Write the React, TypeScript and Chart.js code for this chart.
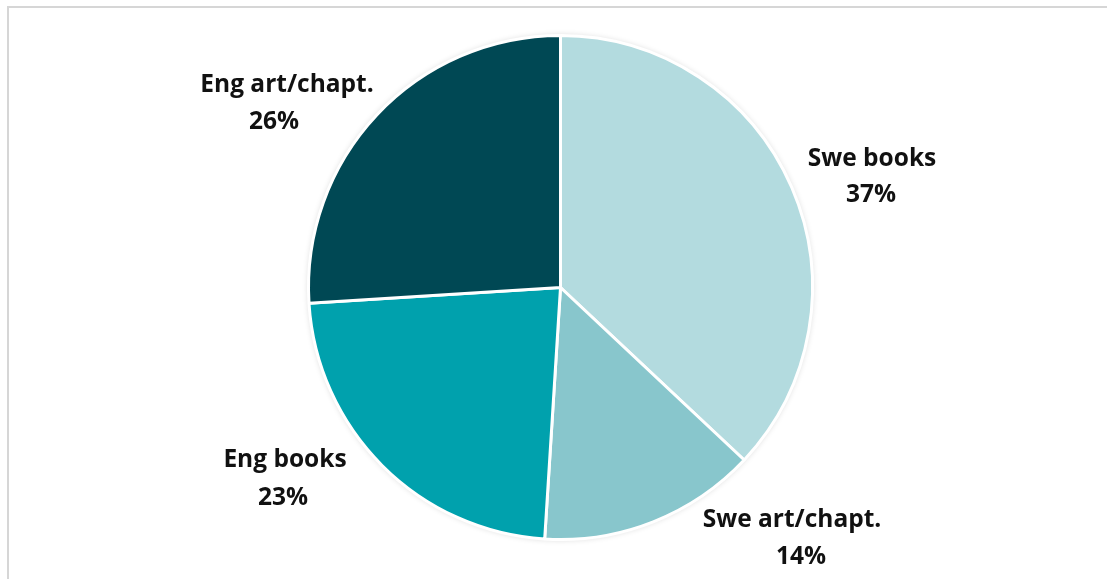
import React, { useEffect, useRef } from "react";
import { Chart, registerables } from "chart.js";

Chart.register(...registerables);

const categories = ["Swe books", "Swe art/chapt.", "Eng books", "Eng art/chapt."];
const shares = [37, 14, 23, 26];
const sliceColors = ["#b3dbdf", "#88c6cc", "#00a1ad", "#004854"];

// label placement (first line centre x, baseline y), second line offset
const labelX = [872, 792, 285, 287];
const labelY = [166, 527, 467, 92];
const line2DX = [-1, 9, -2, -13];
const line2DY = [36, 37, 38, 37];

const labelPlugin = {
  id: "outerLabels",
  beforeDatasetsDraw(chart: any) {
    const meta = chart.getDatasetMeta(0);
    const arc = meta.data[0];
    if (!arc) return;
    const { ctx } = chart;
    ctx.save();
    ctx.shadowColor = "rgba(0,0,0,0.18)";
    ctx.shadowBlur = 6;
    ctx.fillStyle = "#ffffff";
    ctx.beginPath();
    ctx.arc(arc.x, arc.y, arc.outerRadius, 0, Math.PI * 2);
    ctx.fill();
    ctx.restore();
  },
  afterDraw(chart: any) {
    const { ctx } = chart;
    ctx.save();
    ctx.fillStyle = "#111111";
    ctx.font = "bold 24.5px 'Open Sans', sans-serif";
    ctx.textAlign = "center";
    ctx.textBaseline = "alphabetic";
    categories.forEach((c, i) => {
      ctx.fillText(c, labelX[i], labelY[i]);
      ctx.fillText(`${shares[i]}%`, labelX[i] + line2DX[i], labelY[i] + line2DY[i]);
    });
    ctx.restore();
  },
};

export default function App() {
  const ref = useRef<HTMLCanvasElement>(null);
  useEffect(() => {
    if (!ref.current) return;
    const chart = new Chart(ref.current, {
      type: "pie",
      data: {
        labels: categories,
        datasets: [
          {
            data: shares,
            backgroundColor: sliceColors,
            borderColor: "#ffffff",
            borderWidth: 3,
          },
        ],
      },
      options: {
        responsive: false,
        animation: false,
        devicePixelRatio: 1,
        layout: { padding: { left: 307, right: 293, top: 34, bottom: 38 } },
        plugins: {
          legend: { display: false },
          tooltip: { enabled: false },
        },
      },
      plugins: [labelPlugin],
    });
    return () => chart.destroy();
  }, []);

  return (
    <>
      <div
        style={{
          position: "fixed",
          left: 7,
          top: 6,
          width: 1100,
          height: 573,
          borderTop: "2px solid #d6d6d6",
          borderLeft: "2px solid #d6d6d6",
          boxSizing: "border-box",
        }}
      />
      <canvas
        ref={ref}
        width={1107}
        height={579}
        style={{ position: "fixed", left: 0, top: 0, width: 1107, height: 579 }}
      />
    </>
  );
}
